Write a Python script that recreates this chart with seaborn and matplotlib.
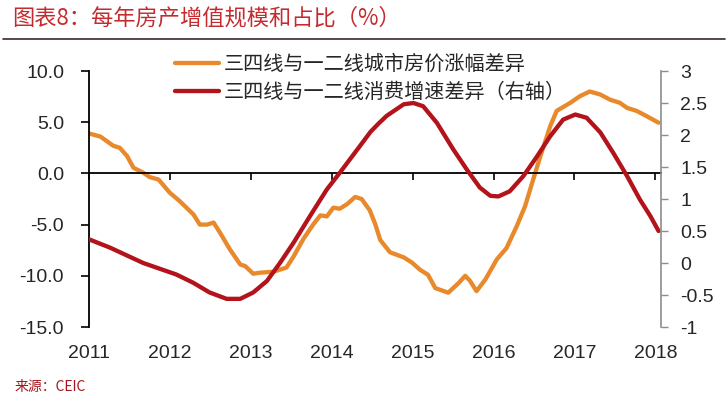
import numpy as np
import pandas as pd
import matplotlib
matplotlib.use("Agg")
import matplotlib.pyplot as plt
import seaborn as sns
from matplotlib.lines import Line2D
from matplotlib.ticker import FuncFormatter, FixedLocator

# ---- data (decimal year, value) ----
# 三四线与一二线城市房价涨幅差异 (left axis, %)
price_t = [2011.00, 2011.14, 2011.30, 2011.38, 2011.47, 2011.55, 2011.67, 2011.75, 2011.86,
           2012.00, 2012.12, 2012.29, 2012.37, 2012.46, 2012.54, 2012.62, 2012.74, 2012.87,
           2012.93, 2013.03, 2013.11, 2013.28, 2013.44, 2013.53, 2013.65, 2013.77, 2013.86,
           2013.94, 2014.02, 2014.10, 2014.19, 2014.29, 2014.37, 2014.47, 2014.54, 2014.60,
           2014.72, 2014.89, 2014.99, 2015.09, 2015.19, 2015.28, 2015.44, 2015.57, 2015.65,
           2015.71, 2015.79, 2015.90, 2016.04, 2016.16, 2016.29, 2016.39, 2016.49, 2016.58,
           2016.70, 2016.78, 2016.95, 2017.07, 2017.19, 2017.32, 2017.44, 2017.56, 2017.65,
           2017.77, 2017.89, 2018.04]
price_v = [3.9, 3.6, 2.7, 2.5, 1.7, 0.55, 0.07, -0.36, -0.6,
           -1.9, -2.7, -4.0, -5.0, -5.0, -4.8, -5.8, -7.4, -8.9,
           -9.05, -9.8, -9.7, -9.6, -9.2, -8.1, -6.4, -5.0, -4.1,
           -4.2, -3.35, -3.45, -3.0, -2.3, -2.5, -3.6, -5.0, -6.5,
           -7.7, -8.2, -8.7, -9.4, -9.9, -11.2, -11.65, -10.7, -10.0,
           -10.5, -11.5, -10.35, -8.4, -7.3, -5.1, -3.2, -0.6, 1.7,
           4.6, 6.1, 6.9, 7.55, 8.0, 7.7, 7.2, 6.9, 6.4,
           6.1, 5.6, 4.95]

# 三四线与一二线消费增速差异 (right axis)
cons_t = [2011.00, 2011.26, 2011.67, 2012.08, 2012.29, 2012.49, 2012.70, 2012.87, 2013.03,
          2013.20, 2013.36, 2013.53, 2013.73, 2013.94, 2014.10, 2014.35, 2014.48, 2014.58,
          2014.68, 2014.89, 2015.01, 2015.13, 2015.30, 2015.50, 2015.67, 2015.83, 2015.96,
          2016.06, 2016.20, 2016.37, 2016.54, 2016.70, 2016.86, 2017.01, 2017.15, 2017.32,
          2017.48, 2017.65, 2017.81, 2017.94, 2018.04]
cons_v = [0.37, 0.24, 0.0, -0.18, -0.31, -0.46, -0.56, -0.56, -0.46,
          -0.28, 0.0, 0.32, 0.73, 1.15, 1.41, 1.83, 2.05, 2.18,
          2.30, 2.48, 2.50, 2.45, 2.19, 1.78, 1.46, 1.18, 1.05,
          1.04, 1.12, 1.36, 1.67, 1.98, 2.24, 2.32, 2.27, 2.04,
          1.72, 1.36, 0.99, 0.73, 0.50]

years = [2011, 2012, 2013, 2014, 2015, 2016, 2017, 2018]
labels = ["三四线与一二线城市房价涨幅差异", "三四线与一二线消费增速差异（右轴）"]
title = "图表8：每年房产增值规模和占比（%）"
source = "来源：CEIC"

ORANGE, RED = "#E8892B", "#B3131B"
CJK = ["Noto Sans CJK SC", "DejaVu Sans"]

sns.set_theme(style="white")
plt.rcParams["font.family"] = ["Liberation Sans", "Noto Sans CJK SC", "DejaVu Sans"]
plt.rcParams["axes.unicode_minus"] = False

df_price = pd.DataFrame({"t": price_t, "v": price_v})
df_cons = pd.DataFrame({"t": cons_t, "v": cons_v})

fig, ax = plt.subplots(figsize=(7.28, 4.01), dpi=100)
fig.subplots_adjust(left=89 / 728, right=661 / 728, top=1 - 71 / 401, bottom=1 - 327 / 401)
ax2 = ax.twinx()

sns.lineplot(data=df_price, x="t", y="v", ax=ax, color=ORANGE, linewidth=3.1, sort=False)
sns.lineplot(data=df_cons, x="t", y="v", ax=ax2, color=RED, linewidth=3.1, sort=False)

ax.set_xlim(2011, 2018.07)
ax.set_ylim(-15, 10)
ax2.set_ylim(-1, 3)
for a in (ax, ax2):
    a.set_xlabel("")
    a.set_ylabel("")
    a.grid(False)

# left axis
ax.yaxis.set_major_locator(FixedLocator(np.arange(-15, 10.1, 5)))
ax.yaxis.set_major_formatter(FuncFormatter(lambda v, p: f"{v:.1f}"))
ax.tick_params(axis="y", direction="out", length=6, width=1.2, color="black",
               labelsize=14, pad=12, left=True)
ax.spines["left"].set_color("black")
ax.spines["left"].set_linewidth(1.3)
for s in ("top", "right"):
    ax.spines[s].set_visible(False)

# zero line with year ticks
ax.spines["bottom"].set_position(("data", 0))
ax.spines["bottom"].set_color("black")
ax.spines["bottom"].set_linewidth(1.3)
ax.set_xticks(years)
ax.tick_params(axis="x", direction="out", length=5, width=1.2, color="black",
               bottom=True, labelbottom=False)

# year labels at the foot of the plot
sec = ax.secondary_xaxis("bottom")
sec.set_xticks(years, [str(y) for y in years])
sec.tick_params(length=0, pad=13, labelsize=14)
sec.spines["bottom"].set_visible(False)

# right axis
ax2.yaxis.set_major_locator(FixedLocator(np.arange(-1, 3.01, 0.5)))
ax2.yaxis.set_major_formatter(FuncFormatter(lambda v, p: f"{v:g}"))
ax2.tick_params(axis="y", direction="out", length=5, width=1, color="#8c8c8c",
                labelsize=14, pad=9, right=True)
for s in ("top", "left", "bottom"):
    ax2.spines[s].set_visible(False)
ax2.spines["right"].set_color("#8c8c8c")
ax2.spines["right"].set_linewidth(1.2)

# legend
handles = [Line2D([], [], color=ORANGE, lw=3.1), Line2D([], [], color=RED, lw=3.1)]
fig.legend(handles, labels, loc="upper left", bbox_to_anchor=(175 / 728, 1 - 54 / 401),
           frameon=False, prop={"family": CJK, "size": 14.5}, handlelength=2.2,
           handletextpad=0.2, borderpad=0, borderaxespad=0, labelspacing=0.35)

# title, rule and source
fig.text(12 / 728, 1 - 18 / 401, title, family=CJK, fontsize=16, color="#C42A2E", va="center")
fig.add_artist(Line2D([0.004, 0.996], [1 - 39 / 401] * 2, color="#3a2a2a", lw=1.2))
fig.text(15 / 728, 1 - 387 / 401, source, family=CJK, fontsize=10, color="#A3161C", va="center")

fig.savefig("out.png", dpi=100)
